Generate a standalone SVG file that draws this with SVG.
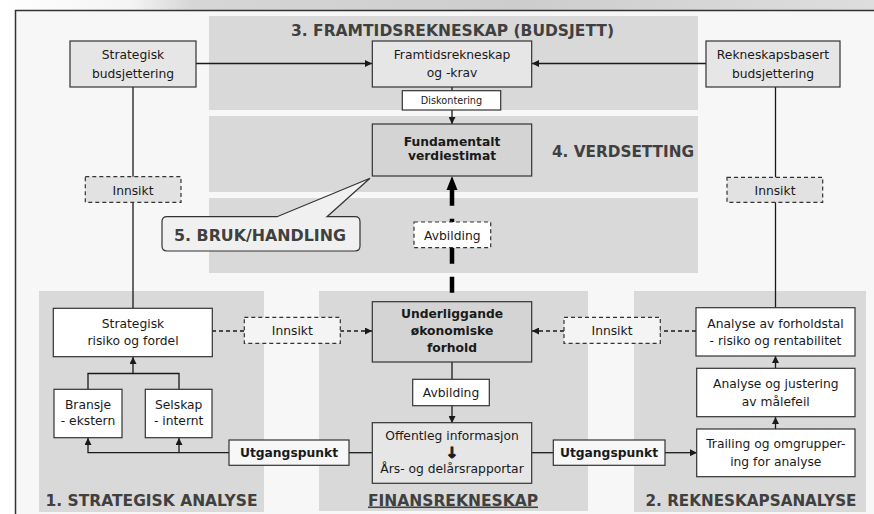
<svg xmlns="http://www.w3.org/2000/svg" width="874" height="514" viewBox="0 0 874 514">
<defs>
<linearGradient id="strip" x1="0" y1="0" x2="1" y2="0">
<stop offset="0" stop-color="#ffffff"/>
<stop offset="0.15" stop-color="#f4f4f4"/>
<stop offset="0.22" stop-color="#d6d6d6"/>
<stop offset="0.6" stop-color="#cdcdcd"/>
<stop offset="1" stop-color="#dedede"/>
</linearGradient>
<marker id="arr" viewBox="0 0 10 10" refX="10" refY="5" markerWidth="7" markerHeight="7" markerUnits="userSpaceOnUse" orient="auto">
<path d="M0,0 L10,5 L0,10 Z" fill="#1a1a1a"/>
</marker>
<style>
text{font-family:"DejaVu Sans",Verdana,sans-serif;fill:#1a1a1a;text-anchor:middle}
.t{font-size:12.3px}
.s{font-size:9.7px}
.b{font-size:12.3px;font-weight:bold}
.title{font-size:15.5px;font-weight:bold;fill:#404040}
.box{stroke:#333;stroke-width:1.2}
.white{fill:#ffffff}
.lg{fill:#e6e6e6}
.dg{fill:#d4d4d4}
.dash{stroke:#333;stroke-width:1.2;stroke-dasharray:4 3}
.panel{fill:#d9d9d9}
.con{stroke:#1a1a1a;stroke-width:1.3;fill:none}
.dcon{stroke:#1a1a1a;stroke-width:1.3;fill:none;stroke-dasharray:4 3}
</style>
</defs>
<rect x="0" y="0" width="874" height="514" fill="#ffffff"/>
<rect x="0" y="0" width="874" height="10" fill="url(#strip)"/>
<rect x="15.5" y="10.5" width="860" height="505" fill="#f7f7f7"/>
<path d="M15.5,514 V10.5 H874" fill="none" stroke="#333" stroke-width="1.5"/>

<g id="panels">
<rect class="panel" x="209" y="16" width="489" height="94"/>
<rect class="panel" x="209" y="116" width="489" height="76"/>
<rect class="panel" x="209" y="198" width="489" height="75"/>
<rect class="panel" x="39" y="291" width="225" height="221"/>
<rect class="panel" x="319" y="291" width="269" height="220"/>
<rect class="panel" x="634" y="291" width="232" height="221"/>
</g>

<g id="titles">
<text class="title" x="452.5" y="35.5" textLength="323" lengthAdjust="spacingAndGlyphs">3. FRAMTIDSREKNESKAP (BUDSJETT)</text>
<text class="title" x="623" y="156.5" textLength="142" lengthAdjust="spacingAndGlyphs">4. VERDSETTING</text>
<text class="title" x="151.5" y="505.5" textLength="212" lengthAdjust="spacingAndGlyphs">1. STRATEGISK ANALYSE</text>
<text class="title" x="453" y="505.5" textLength="170" lengthAdjust="spacingAndGlyphs" text-decoration="underline">FINANSREKNESKAP</text>
<text class="title" x="751" y="505.5" textLength="211" lengthAdjust="spacingAndGlyphs">2. REKNESKAPSANALYSE</text>
</g>

<g id="connectors">
<line class="con" x1="196" y1="63.5" x2="372" y2="63.5" marker-end="url(#arr)"/>
<line class="con" x1="706" y1="63.5" x2="532" y2="63.5" marker-end="url(#arr)"/>
<line class="con" x1="452" y1="87" x2="452" y2="91"/>
<line class="con" x1="452" y1="110" x2="452" y2="124" marker-end="url(#arr)"/>
<line x1="452" y1="292.7" x2="452" y2="188" stroke="#000" stroke-width="4.5" stroke-dasharray="16 13"/>
<path d="M452,176 L446.5,190 L457.5,190 Z" fill="#000"/>
<line class="con" x1="133" y1="87" x2="133" y2="308"/>
<line class="con" x1="775.5" y1="87" x2="775.5" y2="308"/>
<polyline class="con" points="88,389 88,373.5 179,373.5 179,389"/>
<line class="con" x1="133" y1="373.5" x2="133" y2="357" marker-end="url(#arr)"/>
<polyline class="con" points="229,452.7 88,452.7 88,438" marker-end="url(#arr)"/>
<line class="con" x1="179" y1="452.7" x2="179" y2="438" marker-end="url(#arr)"/>
<line class="con" x1="372" y1="452.7" x2="349" y2="452.7"/>
<line class="con" x1="532" y1="452.7" x2="553" y2="452.7"/>
<line class="con" x1="665" y1="452.7" x2="697" y2="452.7" marker-end="url(#arr)"/>
<line class="con" x1="775.5" y1="429" x2="775.5" y2="417" marker-end="url(#arr)"/>
<line class="con" x1="775.5" y1="368.3" x2="775.5" y2="356" marker-end="url(#arr)"/>
<line class="con" x1="452" y1="362" x2="452" y2="379"/>
<line class="con" x1="452" y1="406" x2="452" y2="423" marker-end="url(#arr)"/>
<line class="dcon" x1="212" y1="331" x2="244" y2="331"/>
<line class="dcon" x1="340" y1="331" x2="372" y2="331" marker-end="url(#arr)"/>
<line class="dcon" x1="696" y1="331" x2="660" y2="331"/>
<line class="dcon" x1="564" y1="331" x2="532" y2="331" marker-end="url(#arr)"/>
</g>

<g id="n-strat-budsj">
<rect class="box lg" x="70" y="41" width="126" height="46"/>
<text class="t" x="133" y="59">Strategisk</text>
<text class="t" x="133" y="78">budsjettering</text>
</g>
<g id="n-framtid">
<rect class="box lg" x="372.3" y="41" width="159.4" height="46"/>
<text class="t" x="452" y="59">Framtidsrekneskap</text>
<text class="t" x="452" y="77">og -krav</text>
</g>
<g id="n-rekn-budsj">
<rect class="box lg" x="706" y="41" width="134" height="46"/>
<text class="t" x="773" y="59">Rekneskapsbasert</text>
<text class="t" x="773" y="78">budsjettering</text>
</g>
<g id="n-diskontering">
<rect class="box white" x="402.3" y="90.7" width="98.4" height="19.3"/>
<text class="s" x="451.5" y="104">Diskontering</text>
</g>
<g id="n-fundamentalt">
<rect class="box dg" x="372.3" y="124" width="159.4" height="52"/>
<text class="b" x="452" y="145.5">Fundamentalt</text>
<text class="b" x="452" y="160">verdiestimat</text>
</g>
<g id="n-innsikt-left">
<rect class="dash" x="85.3" y="176.7" width="95.7" height="25.6" fill="#e2e2e2"/>
<text class="t" x="133" y="194.5">Innsikt</text>
</g>
<g id="n-innsikt-right">
<rect class="dash" x="727" y="177.3" width="95.7" height="25" fill="#e2e2e2"/>
<text class="t" x="775" y="194.5">Innsikt</text>
</g>
<g id="n-bruk">
<path d="M167,216.7 H277 L370,178.3 L327,216.7 H355 Q360,216.7 360,221.7 V246 Q360,251 355,251 H167 Q162,251 162,246 V221.7 Q162,216.7 167,216.7 Z" fill="#f0f0f0" stroke="#333" stroke-width="1.2"/>
<text class="title" x="260" y="240.8" textLength="172" lengthAdjust="spacingAndGlyphs">5. BRUK/HANDLING</text>
</g>
<g id="n-avbilding-top">
<rect class="dash white" x="414" y="222" width="76.7" height="25.7"/>
<text class="t" x="452.3" y="240">Avbilding</text>
</g>
<g id="n-strat-risiko">
<rect class="box white" x="53.3" y="308.3" width="159" height="48.4"/>
<text class="t" x="133" y="327.5">Strategisk</text>
<text class="t" x="133" y="344.5">risiko og fordel</text>
</g>
<g id="n-innsikt-cl">
<rect class="dash" x="244.3" y="317.3" width="96" height="26" fill="#f4f4f4"/>
<text class="t" x="292.3" y="334.5">Innsikt</text>
</g>
<g id="n-underliggande">
<rect class="box dg" x="372.3" y="301.7" width="159.4" height="60.3"/>
<text class="b" x="452" y="317.5">Underliggande</text>
<text class="b" x="452" y="335">økonomiske</text>
<text class="b" x="452" y="352">forhold</text>
</g>
<g id="n-innsikt-cr">
<rect class="dash" x="564" y="317.3" width="96.3" height="26" fill="#f4f4f4"/>
<text class="t" x="612" y="334.5">Innsikt</text>
</g>
<g id="n-forholdstal">
<rect class="box white" x="696" y="307.7" width="159" height="48.3"/>
<text class="t" x="775.5" y="327.5">Analyse av forholdstal</text>
<text class="t" x="775.5" y="344.5">- risiko og rentabilitet</text>
</g>
<g id="n-justering">
<rect class="box white" x="696.7" y="368.3" width="158.3" height="48.4"/>
<text class="t" x="775.8" y="387.5">Analyse og justering</text>
<text class="t" x="775.8" y="405.5">av målefeil</text>
</g>
<g id="n-bransje">
<rect class="box white" x="54" y="389.3" width="68" height="48.4"/>
<text class="t" x="88" y="408.5">Bransje</text>
<text class="t" x="88" y="425">- ekstern</text>
</g>
<g id="n-selskap">
<rect class="box white" x="145.3" y="389.3" width="66.7" height="48.4"/>
<text class="t" x="178.7" y="408.5">Selskap</text>
<text class="t" x="178.7" y="425">- internt</text>
</g>
<g id="n-avbilding-low">
<rect class="box white" x="412.7" y="379.3" width="76.6" height="26.4"/>
<text class="t" x="451" y="397">Avbilding</text>
</g>
<g id="n-offentleg">
<rect class="box lg" x="372.3" y="422.7" width="159.4" height="60.6"/>
<text class="t" x="452" y="439.5">Offentleg informasjon</text>
<text x="452" y="457.5" style="font-size:15px;font-weight:bold;stroke:#1a1a1a;stroke-width:1">↓</text>
<text class="t" x="452" y="472.5">Års- og delårsrapportar</text>
</g>
<g id="n-utg-left">
<rect class="box" x="229" y="440" width="120" height="25.3" fill="#f7f7f7"/>
<text class="b" x="289" y="457">Utgangspunkt</text>
</g>
<g id="n-utg-right">
<rect class="box" x="553.3" y="440" width="111.7" height="25.3" fill="#f7f7f7"/>
<text class="b" x="609" y="457">Utgangspunkt</text>
</g>
<g id="n-trailing">
<rect class="box white" x="696.7" y="429" width="158.3" height="47.7"/>
<text class="t" x="775.8" y="448">Trailing og omgrupper-</text>
<text class="t" x="775.8" y="465.5">ing for analyse</text>
</g>
</svg>
